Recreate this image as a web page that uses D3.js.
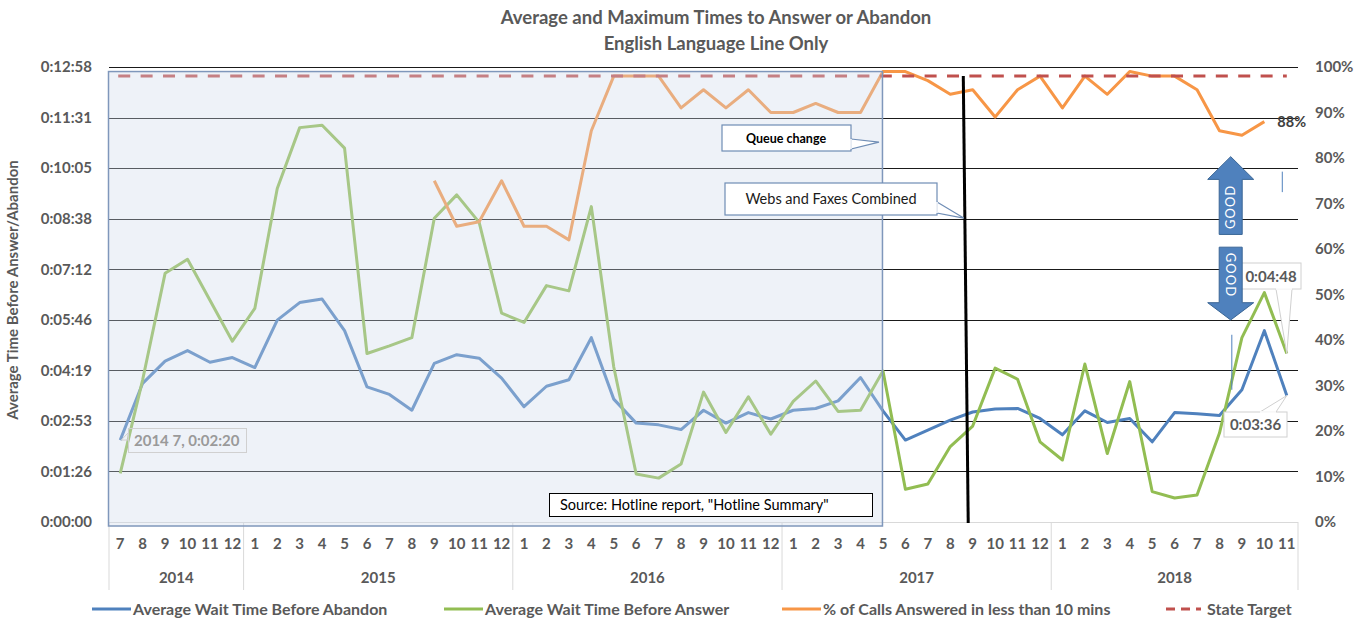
<!DOCTYPE html>
<html>
<head>
<meta charset="utf-8">
<script src="https://cdn.jsdelivr.net/npm/d3@7"></script>
<style>
  body { margin: 0; background: #fff; }
  text { font-family: Lato, "Open Sans", sans-serif; }
</style>
</head>
<body>
<svg id="chart" width="1362" height="621"></svg>
<script>
// Month categories, grouped by year
const yearLabels = ['2014', '2015', '2016', '2017', '2018'];
const monthsPerYear = [6, 12, 12, 12, 11];
const monthLabels = [
  '7', '8', '9', '10', '11', '12',
  '1', '2', '3', '4', '5', '6', '7', '8', '9', '10', '11', '12',
  '1', '2', '3', '4', '5', '6', '7', '8', '9', '10', '11', '12',
  '1', '2', '3', '4', '5', '6', '7', '8', '9', '10', '11', '12',
  '1', '2', '3', '4', '5', '6', '7', '8', '9', '10', '11',
];

// seconds
const abandonSecs = [
  140, 237, 275, 293, 273, 281,
  264, 345, 375, 381, 327, 231, 218, 191, 271, 286, 280, 246,
  197, 232, 243, 315, 210, 169, 166, 158, 191, 169, 187, 176,
  191, 194, 207, 247, 190, 140, 157, 174, 188, 193, 194, 177,
  149, 190, 170, 177, 137, 187, 185, 182, 226, 327, 216,
];
const answerSecs = [
  83, 243, 425, 449, 379, 309,
  365, 570, 674, 678, 639, 288, 301, 315, 519, 559, 512, 357,
  341, 404, 395, 539, 265, 82, 75, 99, 222, 153, 214, 150,
  206, 241, 189, 191, 258, 56, 65, 129, 164, 263, 244, 137,
  106, 270, 117, 240, 52, 41, 46, 152, 315, 392, 288,
];
// percent of calls answered in less than 10 mins
const pctAnswered = [
  null, null, null, null, null, null,
  null, null, null, null, null, null, null, null, 75, 65, 66, 75,
  65, 65, 62, 86, 98, 98, 98, 91, 95, 91, 95, 90,
  90, 92, 90, 90, 99, 99, 97, 94, 95, 89, 95, 98,
  91, 98, 94, 99, 98, 98, 95, 86, 85, 88, null,
];
const stateTarget = 98;

const leftTickSecs = [0, 86.4, 172.8, 259.2, 345.6, 432, 518.4, 604.8, 691.2, 777.6];
const rightTicks = [0, 10, 20, 30, 40, 50, 60, 70, 80, 90, 100];

const legendItems = [
  { name: 'Average Wait Time Before Abandon', color: '#4f81bd', dash: null },
  { name: 'Average Wait Time Before Answer', color: '#92bd52', dash: null },
  { name: '% of Calls Answered in less than 10 mins', color: '#f79646', dash: null },
  { name: 'State Target', color: '#c0504d', dash: '9,6' },
];

function fmtTime(s) {
  var t = Math.round(s);
  var m = Math.floor(t / 60), ss = t % 60;
  return '0:' + String(m).padStart(2, '0') + ':' + String(ss).padStart(2, '0');
}

const svg = d3.select('#chart');
const plotLeft = 109, plotRight = 1298, plotTop = 67, plotBottom = 522;
const n = monthLabels.length;

const x = d3.scaleBand().domain(d3.range(n)).range([plotLeft, plotRight]);
const xc = (i) => x(i) + x.bandwidth() / 2;
// fractional category position, for annotations placed between months
const xf = (v) => plotLeft + x.step() * (v + 0.5);
const yL = d3.scaleLinear().domain([0, 777.6]).range([plotBottom, plotTop]);
const yR = d3.scaleLinear().domain([0, 100]).range([plotBottom, plotTop]);

const grey = '#595959';

// Title
svg.append('text').attr('x', 716).attr('y', 24).attr('text-anchor', 'middle')
  .attr('font-size', 18.5).attr('font-weight', 'bold').attr('fill', grey)
  .text('Average and Maximum Times to Answer or Abandon');
svg.append('text').attr('x', 716).attr('y', 50).attr('text-anchor', 'middle')
  .attr('font-size', 18.5).attr('font-weight', 'bold').attr('fill', grey)
  .text('English Language Line Only');

// Gridlines (left axis)
svg.append('g').selectAll('line')
  .data(leftTickSecs.slice(1))
  .join('line')
  .attr('x1', plotLeft).attr('x2', plotRight)
  .attr('y1', (d) => Math.round(yL(d)) + 0.5).attr('y2', (d) => Math.round(yL(d)) + 0.5)
  .attr('stroke', '#1a1a1a').attr('stroke-width', 1);

// Category axis line and year separators
svg.append('line').attr('x1', plotLeft).attr('x2', plotRight)
  .attr('y1', plotBottom + 0.5).attr('y2', plotBottom + 0.5).attr('stroke', '#d9d9d9');
var starts = [0];
monthsPerYear.forEach((c, k) => starts.push(starts[k] + c));
svg.append('g').selectAll('line')
  .data(starts)
  .join('line')
  .attr('x1', (d) => (d < n ? x(d) : plotRight)).attr('x2', (d) => (d < n ? x(d) : plotRight))
  .attr('y1', plotBottom).attr('y2', 590)
  .attr('stroke', '#d9d9d9');

// Left axis
svg.append('g')
  .attr('transform', 'translate(' + plotLeft + ',0)')
  .call(d3.axisLeft(yL).tickValues(leftTickSecs).tickFormat(fmtTime).tickSize(0).tickPadding(17))
  .call((g) => g.select('.domain').remove())
  .selectAll('text')
  .attr('font-size', 15).attr('font-weight', 'bold').attr('fill', grey)
  .attr('font-family', 'Lato, sans-serif');

// Right axis
svg.append('g')
  .attr('transform', 'translate(' + plotRight + ',0)')
  .call(d3.axisRight(yR).tickValues(rightTicks).tickFormat((d) => d + '%').tickSize(0).tickPadding(17))
  .call((g) => g.select('.domain').remove())
  .selectAll('text')
  .attr('font-size', 15).attr('font-weight', 'bold').attr('fill', grey)
  .attr('font-family', 'Lato, sans-serif');

// Month labels
svg.append('g')
  .attr('transform', 'translate(0,' + plotBottom + ')')
  .call(d3.axisBottom(x).tickFormat((i) => monthLabels[i]).tickSize(0).tickPadding(16))
  .call((g) => g.select('.domain').remove())
  .selectAll('text')
  .attr('font-size', 15).attr('font-weight', 'bold').attr('fill', grey)
  .attr('font-family', 'Lato, sans-serif');

// Year labels
svg.append('g').selectAll('text')
  .data(yearLabels)
  .join('text')
  .attr('x', (d, k) => (x(starts[k]) + (starts[k + 1] < n ? x(starts[k + 1]) : plotRight)) / 2)
  .attr('y', 583)
  .attr('text-anchor', 'middle')
  .attr('font-size', 15).attr('font-weight', 'bold').attr('fill', grey)
  .text((d) => d);

// Axis title
svg.append('text')
  .attr('transform', 'translate(18,290) rotate(-90)')
  .attr('text-anchor', 'middle')
  .attr('font-size', 15).attr('font-weight', 'bold').attr('fill', grey)
  .text('Average Time Before Answer/Abandon');

// Series
const lineL = d3.line().x((d, i) => xc(i)).y((d) => yL(d));
const lineR = d3.line().defined((d) => d != null).x((d, i) => xc(i)).y((d) => yR(d));

svg.append('path').datum(abandonSecs).attr('d', lineL)
  .attr('fill', 'none').attr('stroke', '#4f81bd').attr('stroke-width', 3).attr('stroke-linejoin', 'round');
svg.append('path').datum(answerSecs).attr('d', lineL)
  .attr('fill', 'none').attr('stroke', '#92bd52').attr('stroke-width', 3).attr('stroke-linejoin', 'round');
svg.append('path').datum(pctAnswered).attr('d', lineR)
  .attr('fill', 'none').attr('stroke', '#f79646').attr('stroke-width', 3).attr('stroke-linejoin', 'round');
svg.append('line')
  .attr('x1', xc(0) - 2).attr('x2', xc(n - 1))
  .attr('y1', yR(stateTarget)).attr('y2', yR(stateTarget))
  .attr('stroke', '#c0504d').attr('stroke-width', 3).attr('stroke-dasharray', '12,10.4');

// Translucent overlay over the earlier period
svg.append('rect')
  .attr('x', plotLeft - 0.5).attr('y', yR(99))
  .attr('width', xc(34) - plotLeft).attr('height', plotBottom + 4 - yR(99))
  .attr('fill', 'rgb(206,218,235)').attr('fill-opacity', 0.35)
  .attr('stroke', '#7f97bb').attr('stroke-width', 1.5);

// Vertical marker line
svg.append('line')
  .attr('x1', xf(37.58)).attr('y1', yR(stateTarget))
  .attr('x2', xf(37.8)).attr('y2', plotBottom + 1)
  .attr('stroke', '#000').attr('stroke-width', 3);

// Callout helper: box with pointer triangle
function callout(bx, by, bw, bh, tri, stroke, sw) {
  svg.append('polygon').attr('points', tri.map((p) => p.join(',')).join(' '))
    .attr('fill', '#fff').attr('stroke', stroke).attr('stroke-width', sw);
  svg.append('rect').attr('x', bx).attr('y', by).attr('width', bw).attr('height', bh)
    .attr('fill', '#fff').attr('stroke', stroke).attr('stroke-width', sw);
  svg.append('line').attr('x1', tri[0][0]).attr('y1', tri[0][1])
    .attr('x2', tri[2][0]).attr('y2', tri[2][1])
    .attr('stroke', '#fff').attr('stroke-width', 1.6);
}

// Queue change
callout(722, 125, 129, 26, [[851, 139], [xc(34) - 4, yR(83.5)], [851, 149]], '#6f8db5', 1.2);
svg.append('text').attr('x', 786).attr('y', 142.5).attr('text-anchor', 'middle')
  .attr('font-size', 12.5).attr('font-weight', 'bold').attr('fill', '#000').text('Queue change');

// Webs and Faxes Combined
callout(725, 183, 212, 32, [[937, 202], [xf(37.6), yR(66.8)], [937, 213]], '#6f8db5', 1.2);
svg.append('text').attr('x', 831).attr('y', 204).attr('text-anchor', 'middle')
  .attr('font-size', 14.5).attr('fill', '#1a1a1a').text('Webs and Faxes Combined');

// Source
svg.append('rect').attr('x', 549.5).attr('y', 493.5).attr('width', 323).attr('height', 23)
  .attr('fill', '#fff').attr('stroke', '#000').attr('stroke-width', 1);
svg.append('text').attr('x', 560).attr('y', 510)
  .attr('font-size', 14.5).attr('fill', '#000').text('Source: Hotline report, "Hotline Summary"');

// Data label: first abandon value
svg.append('polygon')
  .attr('points', [[128, 433], [xc(0) + 1, yL(abandonSecs[0])], [128, 440]].map((p) => p.join(',')).join(' '))
  .attr('fill', 'none').attr('stroke', '#d0d0d0');
svg.append('rect').attr('x', 128.5).attr('y', 428.5).attr('width', 118).attr('height', 24)
  .attr('fill', 'none').attr('stroke', '#d0d0d0');
svg.append('text').attr('x', 134).attr('y', 446)
  .attr('font-size', 15).attr('font-weight', 'bold').attr('fill', '#9a9a9a')
  .text(yearLabels[0] + ' ' + monthLabels[0] + ', ' + fmtTime(abandonSecs[0]));

// Data label: last answer value
callout(1241, 263, 60, 26,
  [[1276, 289], [xc(n - 1), yL(answerSecs[n - 1])], [1292, 289]], '#d0d0d0', 1);
svg.append('text').attr('x', 1271).attr('y', 281.5).attr('text-anchor', 'middle')
  .attr('font-size', 15).attr('font-weight', 'bold').attr('fill', grey)
  .text(fmtTime(answerSecs[n - 1]));

// Data label: last abandon value
callout(1224, 412, 63, 25,
  [[1260, 412], [xc(n - 1), yL(abandonSecs[n - 1])], [1276, 412]], '#d0d0d0', 1);
svg.append('text').attr('x', 1255.5).attr('y', 430).attr('text-anchor', 'middle')
  .attr('font-size', 15).attr('font-weight', 'bold').attr('fill', grey)
  .text(fmtTime(abandonSecs[n - 1]));

// Data label: last percent
svg.append('text').attr('x', xc(n - 2) + 13).attr('y', yR(pctAnswered[n - 2]) + 5.5)
  .attr('font-size', 14.5).attr('font-weight', 'bold').attr('fill', '#404040')
  .text(pctAnswered[n - 2] + '%');

// Thin leader marks
svg.append('line').attr('x1', xc(n - 1) - 4.5).attr('x2', xc(n - 1) - 4.5)
  .attr('y1', yR(77)).attr('y2', yR(72.5)).attr('stroke', '#4f81bd').attr('stroke-width', 1);
svg.append('line').attr('x1', xf(49.55)).attr('x2', xf(49.55))
  .attr('y1', yL(320)).attr('y2', yL(226)).attr('stroke', '#4f81bd').attr('stroke-width', 1);

// GOOD arrows
const ax = xf(49.5), shaftW = 11.5, headW = 23;
function arrow(tipY, baseY, endY, label, rot) {
  var pts = [
    [ax, tipY], [ax + headW, baseY], [ax + shaftW, baseY], [ax + shaftW, endY],
    [ax - shaftW, endY], [ax - shaftW, baseY], [ax - headW, baseY],
  ];
  svg.append('polygon').attr('points', pts.map((p) => p.join(',')).join(' '))
    .attr('fill', '#4f81bd').attr('stroke', '#3a6696').attr('stroke-width', 1);
  var cy = (baseY + endY) / 2;
  svg.append('text')
    .attr('transform', 'translate(' + ax + ',' + cy + ') rotate(' + rot + ')')
    .attr('text-anchor', 'middle').attr('dy', '0.36em')
    .attr('font-size', 13).attr('fill', '#fff').attr('letter-spacing', 1)
    .text(label);
}
arrow(yR(80.3), yR(75.3), yR(63.2), 'GOOD', -90);
arrow(yR(44.4), yR(48.2), yR(60.4), 'GOOD', 90);

// Legend
const legendX = [92, 444, 782, 1166];
const lg = svg.append('g').selectAll('g')
  .data(legendItems)
  .join('g')
  .attr('transform', (d, k) => 'translate(' + legendX[k] + ',609)');
lg.append('line').attr('x1', 0).attr('x2', (d) => (d.dash ? 35 : 39)).attr('y1', 0).attr('y2', 0)
  .attr('stroke', (d) => d.color).attr('stroke-width', 3)
  .attr('stroke-dasharray', (d) => d.dash);
lg.append('text').attr('x', 41).attr('y', 5.5)
  .attr('font-size', 16).attr('font-weight', 'bold').attr('fill', grey)
  .text((d) => d.name);
</script>
</body>
</html>
